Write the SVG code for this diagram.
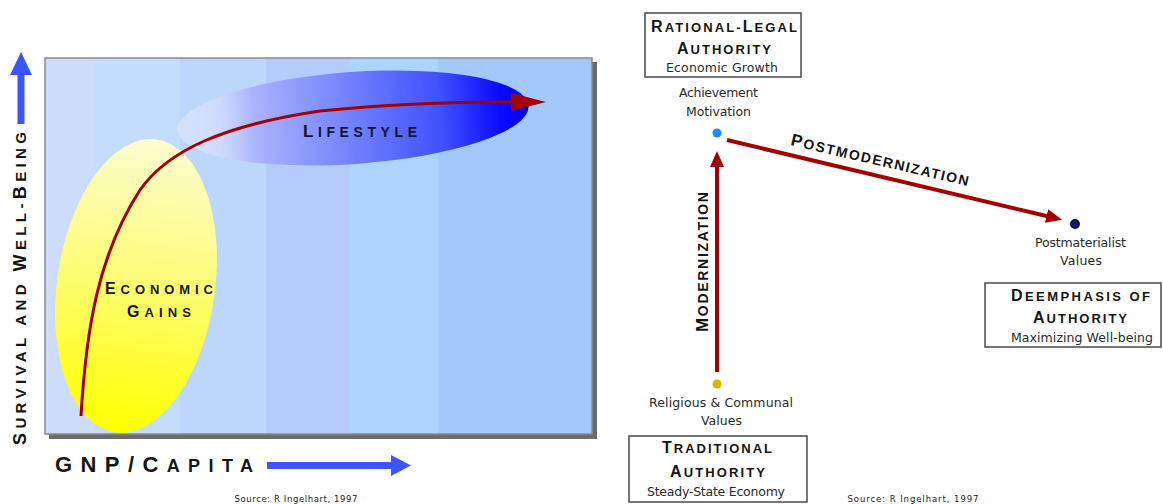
<svg xmlns="http://www.w3.org/2000/svg" width="1163" height="504" viewBox="0 0 1163 504">
<style>
.hd{font-family:"Liberation Sans",Arial,sans-serif;font-weight:bold;fill:#151515}
.big{font-size:16px}
.sm{font-size:13px}
.lt{font-family:"DejaVu Sans","Liberation Sans",sans-serif;font-size:12.5px;fill:#2a2a2a}
.src{font-family:"DejaVu Sans","Liberation Sans",sans-serif;font-size:8.5px;fill:#222}
.box{fill:#fff;stroke:#4a4a4a;stroke-width:1.5}
.red{fill:none;stroke:#a30000;stroke-width:4}
.blue{fill:#3d55ff}
</style>
<defs>
<linearGradient id="gY" x1="0" y1="0" x2="0" y2="1">
<stop offset="0" stop-color="#fcfcd0"/>
<stop offset="0.45" stop-color="#fcfc7c"/>
<stop offset="1" stop-color="#ffff00"/>
</linearGradient>
<linearGradient id="gB" x1="0" y1="0" x2="1" y2="0">
<stop offset="0" stop-color="#eef2fc" stop-opacity="0.4"/>
<stop offset="0.12" stop-color="#d4dafc" stop-opacity="0.8"/>
<stop offset="0.22" stop-color="#aab4fc"/>
<stop offset="0.5" stop-color="#7080fc"/>
<stop offset="0.75" stop-color="#4050fc"/>
<stop offset="0.92" stop-color="#0a0aff"/>
<stop offset="1" stop-color="#0000ff"/>
</linearGradient>
<marker id="mBig" markerUnits="userSpaceOnUse" markerWidth="40" markerHeight="22" viewBox="0 -11 40 22" refX="1" refY="0" orient="auto">
<path d="M0,-9 L35,0 L0,9 Z" fill="#a30000"/>
</marker>
<marker id="mSm" markerUnits="userSpaceOnUse" markerWidth="20" markerHeight="16" viewBox="0 -8 20 16" refX="1" refY="0" orient="auto">
<path d="M0,-7 L16,0 L0,7 Z" fill="#a30000"/>
</marker>
</defs>
<rect width="1163" height="504" fill="#fff"/>

<g id="chart">
<rect x="49" y="62" width="548" height="377" fill="#6c6c6c"/>
<rect x="45" y="58" width="50" height="376" fill="#cddcfb"/>
<rect x="95" y="58" width="85" height="376" fill="#c5ddfc"/>
<rect x="180" y="58" width="86" height="376" fill="#bdd6fc"/>
<rect x="266" y="58" width="84" height="376" fill="#b5cbfc"/>
<rect x="350" y="58" width="88" height="376" fill="#acd5fd"/>
<rect x="438" y="58" width="154" height="376" fill="#a3c9fb"/>
<rect x="45" y="58" width="547" height="376" fill="none" stroke="#8a8a8a" stroke-width="1.5"/>
</g>

<g id="lifestyle">
<ellipse cx="353" cy="118" rx="176" ry="46" transform="rotate(-4 353 118)" fill="url(#gB)"/>
<text class="hd" x="303" y="137" textLength="114" lengthAdjust="spacing" style="fill:#151530"><tspan font-size="17">L</tspan><tspan font-size="14">IFESTYLE</tspan></text>
</g>

<g id="economic-gains">
<ellipse cx="136" cy="286" rx="79" ry="148" transform="rotate(8 136 286)" fill="url(#gY)"/>
<text class="hd" x="105" y="294" textLength="108" lengthAdjust="spacing"><tspan class="big">E</tspan><tspan class="sm">CONOMIC</tspan></text>
<text class="hd" x="127" y="317" textLength="64" lengthAdjust="spacing"><tspan class="big">G</tspan><tspan class="sm">AINS</tspan></text>
</g>

<g id="axes">
<rect class="blue" x="17.5" y="72" width="7" height="52"/>
<polygon class="blue" points="10,75 32,75 21,52"/>
<text class="hd" transform="translate(26,445) rotate(-90)" x="0" y="0" textLength="313" lengthAdjust="spacing"><tspan font-size="18">S</tspan><tspan font-size="15">URVIVAL AND </tspan><tspan font-size="18">W</tspan><tspan font-size="15">ELL-</tspan><tspan font-size="18">B</tspan><tspan font-size="15">EING</tspan></text>
<rect class="blue" x="267" y="462" width="126" height="7"/>
<polygon class="blue" points="391,455 411,465.5 391,476"/>
<text class="hd" x="55" y="472" textLength="198" lengthAdjust="spacing"><tspan font-size="22">GNP/C</tspan><tspan font-size="18">APITA</tspan></text>
<text class="src" x="296" y="502" text-anchor="middle" textLength="123" lengthAdjust="spacing">Source: R Ingelhart, 1997</text>
</g>

<g id="rational-legal">
<rect class="box" x="645" y="13" width="156" height="64"/>
<text class="hd" x="651" y="32" textLength="146" lengthAdjust="spacing"><tspan class="big">R</tspan><tspan class="sm">ATIONAL-</tspan><tspan class="big">L</tspan><tspan class="sm">EGAL</tspan></text>
<text class="hd" x="677" y="54" textLength="94" lengthAdjust="spacing"><tspan class="big">A</tspan><tspan class="sm">UTHORITY</tspan></text>
<text class="lt" x="666" y="72" textLength="112" lengthAdjust="spacing">Economic Growth</text>
</g>

<g id="achievement">
<text class="lt" x="679" y="97" textLength="79" lengthAdjust="spacing">Achievement</text>
<text class="lt" x="686" y="116" textLength="65" lengthAdjust="spacing">Motivation</text>
<circle cx="717" cy="133" r="4.5" fill="#1a8cff"/>
</g>

<g id="postmaterialist">
<circle cx="1075" cy="224" r="5" fill="#10105e"/>
<text class="lt" x="1035" y="247" textLength="91" lengthAdjust="spacing">Postmaterialist</text>
<text class="lt" x="1060" y="265" textLength="42" lengthAdjust="spacing">Values</text>
</g>

<g id="deemphasis">
<rect class="box" x="985" y="283" width="176" height="64"/>
<text class="hd" x="1011" y="301" textLength="139" lengthAdjust="spacing"><tspan class="big">D</tspan><tspan class="sm">EEMPHASIS OF</tspan></text>
<text class="hd" x="1033" y="323" textLength="94" lengthAdjust="spacing"><tspan class="big">A</tspan><tspan class="sm">UTHORITY</tspan></text>
<text class="lt" x="1011" y="342" textLength="142" lengthAdjust="spacing">Maximizing Well-being</text>
</g>

<g id="religious">
<circle cx="717" cy="384" r="4.5" fill="#d6b400"/>
<text class="lt" x="649" y="407" textLength="144" lengthAdjust="spacing">Religious &amp; Communal</text>
<text class="lt" x="701" y="425" textLength="41" lengthAdjust="spacing">Values</text>
</g>

<g id="traditional">
<rect class="box" x="629" y="436" width="178" height="66"/>
<text class="hd" x="662" y="453" textLength="110" lengthAdjust="spacing"><tspan class="big">T</tspan><tspan class="sm">RADITIONAL</tspan></text>
<text class="hd" x="670" y="477" textLength="95" lengthAdjust="spacing"><tspan class="big">A</tspan><tspan class="sm">UTHORITY</tspan></text>
<text class="lt" x="647" y="496" textLength="138" lengthAdjust="spacing">Steady-State Economy</text>
</g>

<text class="src" x="913" y="502" text-anchor="middle" textLength="131" lengthAdjust="spacing">Source: R Ingelhart, 1997</text>

<g id="connectors">
<path d="M81,416 C86,330 98,255 140,190 C168,150 225,125 320,111 C400,103 460,102 512,102" fill="none" stroke="#a30000" stroke-width="3" marker-end="url(#mBig)"/>
<path class="red" d="M717,372 L717,166" marker-end="url(#mSm)"/>
<path class="red" d="M727,140 L1047.5,216.3" marker-end="url(#mSm)"/>
<text class="hd" transform="translate(708,262) rotate(-90)" text-anchor="middle" textLength="140" lengthAdjust="spacing"><tspan font-size="17">M</tspan><tspan font-size="14">ODERNIZATION</tspan></text>
<text class="hd" transform="translate(790,145) rotate(13)" textLength="182" lengthAdjust="spacing"><tspan font-size="17">P</tspan><tspan font-size="14">OSTMODERNIZATION</tspan></text>
</g>
</svg>
